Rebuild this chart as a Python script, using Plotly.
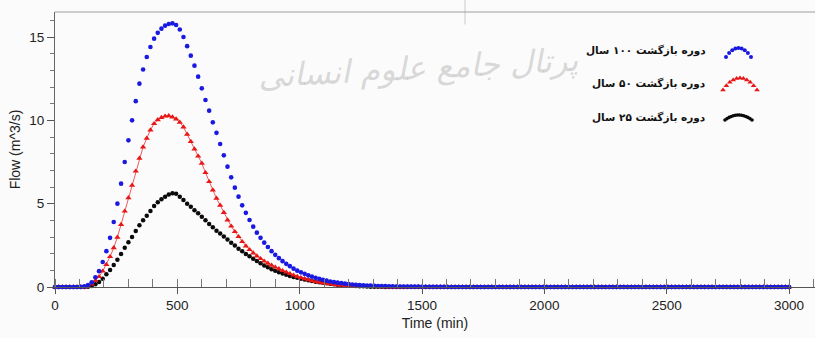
import plotly.graph_objects as go

# Outflow hydrographs, sampled every 15 minutes from 0 to 3000 min
TIME_STEP = 15

flow_100yr = [
    0, 0, 0, 0, 0, 0, 0, 0.01, 0.04, 0.12,
    0.28, 0.58, 0.95, 1.5, 2.15, 2.95, 3.9, 5.0, 6.2, 7.5,
    8.8, 10.0, 11.15, 12.2, 13.05, 13.8, 14.4, 14.9, 15.25, 15.5,
    15.68, 15.78, 15.82, 15.72, 15.45, 15.0, 14.45, 13.88, 13.28, 12.62,
    11.92, 11.22, 10.58, 9.88, 9.25, 8.58, 7.9, 7.22, 6.58, 5.96,
    5.42, 4.9, 4.45, 4.02, 3.62, 3.26, 2.95, 2.66, 2.4, 2.15,
    1.93, 1.73, 1.55, 1.39, 1.25, 1.1, 0.98, 0.88, 0.79, 0.7,
    0.62, 0.55, 0.49, 0.43, 0.38, 0.33, 0.29, 0.26, 0.23, 0.2,
    0.17, 0.15, 0.13, 0.11, 0.1, 0.09, 0.08, 0.07, 0.06, 0.05,
    0.05, 0.04, 0.04, 0.03, 0.03, 0.03, 0.02, 0.02, 0.02, 0.02,
    0.01, 0.01, 0.01, 0.01, 0.01, 0.01, 0.01, 0, 0, 0,
    0, 0, 0, 0, 0, 0, 0, 0, 0, 0,
    0, 0, 0, 0, 0, 0, 0, 0, 0, 0,
    0, 0, 0, 0, 0, 0, 0, 0, 0, 0,
    0, 0, 0, 0, 0, 0, 0, 0, 0, 0,
    0, 0, 0, 0, 0, 0, 0, 0, 0, 0,
    0, 0, 0, 0, 0, 0, 0, 0, 0, 0,
    0, 0, 0, 0, 0, 0, 0, 0, 0, 0,
    0, 0, 0, 0, 0, 0, 0, 0, 0, 0,
    0, 0, 0, 0, 0, 0, 0, 0, 0, 0,
    0,
]

flow_50yr = [
    0, 0, 0, 0, 0, 0, 0, 0, 0, 0.05,
    0.18, 0.38, 0.62, 0.95, 1.35, 1.82, 2.35, 2.98, 3.75, 4.55,
    5.35, 6.1, 6.95, 7.72, 8.4, 8.92, 9.42, 9.8, 10.03, 10.17,
    10.25, 10.27, 10.2, 10.08, 9.88, 9.6, 9.16, 8.73, 8.28, 7.85,
    7.42, 6.86, 6.32, 5.82, 5.32, 4.9, 4.47, 4.02, 3.65, 3.32,
    3.02, 2.72, 2.46, 2.24, 2.04, 1.86, 1.7, 1.55, 1.42, 1.3,
    1.19, 1.09, 0.98, 0.89, 0.8, 0.71, 0.63, 0.56, 0.49, 0.43,
    0.37, 0.32, 0.28, 0.24, 0.2, 0.17, 0.14, 0.12, 0.1, 0.08,
    0.07, 0.06, 0.05, 0.04, 0.03, 0.03, 0.02, 0.02, 0.01, 0.01,
    0.01, 0, 0, 0, 0, 0, 0, 0, 0, 0,
    0, 0, 0, 0, 0, 0, 0, 0, 0, 0,
    0, 0, 0, 0, 0, 0, 0, 0, 0, 0,
    0, 0, 0, 0, 0, 0, 0, 0, 0, 0,
    0, 0, 0, 0, 0, 0, 0, 0, 0, 0,
    0, 0, 0, 0, 0, 0, 0, 0, 0, 0,
    0, 0, 0, 0, 0, 0, 0, 0, 0, 0,
    0, 0, 0, 0, 0, 0, 0, 0, 0, 0,
    0, 0, 0, 0, 0, 0, 0, 0, 0, 0,
    0, 0, 0, 0, 0, 0, 0, 0, 0, 0,
    0, 0, 0, 0, 0, 0, 0, 0, 0, 0,
    0,
]

flow_25yr = [
    0, 0, 0, 0, 0, 0, 0, 0, 0, 0.02,
    0.06, 0.16, 0.3, 0.5, 0.76, 1.02, 1.32, 1.64, 1.98, 2.35,
    2.68, 3.0, 3.36, 3.7, 4.0, 4.28, 4.56, 4.86, 5.08, 5.26,
    5.42, 5.55, 5.63, 5.6, 5.42, 5.22, 5.0, 4.82, 4.6, 4.42,
    4.22, 4.0, 3.78, 3.58, 3.38, 3.21, 3.03, 2.85, 2.66, 2.49,
    2.3, 2.14, 1.98, 1.84, 1.7, 1.56, 1.42, 1.29, 1.18, 1.07,
    0.97, 0.88, 0.81, 0.74, 0.66, 0.6, 0.55, 0.5, 0.45, 0.4,
    0.36, 0.32, 0.28, 0.25, 0.22, 0.19, 0.16, 0.14, 0.12, 0.1,
    0.08, 0.07, 0.06, 0.05, 0.04, 0.03, 0.02, 0.02, 0.01, 0.01,
    0, 0, 0, 0, 0, 0, 0, 0, 0, 0,
    0, 0, 0, 0, 0, 0, 0, 0, 0, 0,
    0, 0, 0, 0, 0, 0, 0, 0, 0, 0,
    0, 0, 0, 0, 0, 0, 0, 0, 0, 0,
    0, 0, 0, 0, 0, 0, 0, 0, 0, 0,
    0, 0, 0, 0, 0, 0, 0, 0, 0, 0,
    0, 0, 0, 0, 0, 0, 0, 0, 0, 0,
    0, 0, 0, 0, 0, 0, 0, 0, 0, 0,
    0, 0, 0, 0, 0, 0, 0, 0, 0, 0,
    0, 0, 0, 0, 0, 0, 0, 0, 0, 0,
    0, 0, 0, 0, 0, 0, 0, 0, 0, 0,
    0,
]

legend_labels = [
    "دوره بازگشت ۱۰۰ سال",
    "دوره بازگشت ۵۰ سال",
    "دوره بازگشت ۲۵ سال",
]
x_ticks = [0, 500, 1000, 1500, 2000, 2500, 3000]
y_ticks = [0, 5, 10, 15]

time_min = [i * TIME_STEP for i in range(len(flow_100yr))]

BLUE = "rgb(25,25,225)"
RED = "rgb(232,22,22)"
BLACK = "rgb(10,10,10)"
TICK_FONT = dict(family="Liberation Sans, Arial, sans-serif", size=13.5, color="#222")
TITLE_FONT = dict(family="Liberation Sans, Arial, sans-serif", size=14, color="#222")

# figure geometry (pixels)
W, H = 815, 338
L, R, T, B = 55, 0, 12, 51

fig = go.Figure()

# series: 25-yr first, 100-yr last so it sits on top
fig.add_trace(go.Scatter(
    x=time_min, y=flow_25yr, mode="markers", cliponaxis=False,
    marker=dict(symbol="circle", size=4.5, color=BLACK), showlegend=False))
fig.add_trace(go.Scatter(
    x=time_min, y=flow_50yr, mode="lines+markers", cliponaxis=False,
    line=dict(color=RED, width=0.7),
    marker=dict(symbol="triangle-up", size=5.5, color=RED), showlegend=False))
fig.add_trace(go.Scatter(
    x=time_min, y=flow_100yr, mode="markers", cliponaxis=False,
    marker=dict(symbol="circle", size=4.6, color=BLUE), showlegend=False))

# legend key glyphs: small arcs of markers, drawn in a pixel-space overlay
def arc(x0, x1, y_end, y_top, n):
    xs, ys = [], []
    for i in range(n):
        u = i / (n - 1)
        xs.append(x0 + (x1 - x0) * u)
        ys.append(y_end - (y_end - y_top) * 4 * u * (1 - u))
    return xs, ys

key_styles = [
    (BLUE, "circle", 4, arc(726, 751, 57, 48, 9)),
    (RED, "triangle-up", 5, arc(723, 757, 90, 78, 11)),
    (BLACK, "circle", 3.6, arc(725, 752, 120, 115, 14)),
]
for color, sym, size, (kx, ky) in key_styles:
    fig.add_trace(go.Scatter(
        x=kx, y=ky, xaxis="x3", yaxis="y3", mode="markers", cliponaxis=False,
        marker=dict(symbol=sym, size=size, color=color), showlegend=False,
        hoverinfo="skip"))

annotations = []
for label, ypix in zip(legend_labels, [50, 83, 117]):
    annotations.append(dict(
        x=708, y=ypix, xref="x3", yref="y3", text=f"<b>{label}</b>",
        showarrow=False, xanchor="right", yanchor="middle",
        font=dict(family="DejaVu Sans, sans-serif", size=10.5, color="#111")))

# faint site watermark
annotations.append(dict(
    x=418, y=68, xref="x3", yref="y3", text="<i>پرتال جامع علوم انسانی</i>",
    showarrow=False, xanchor="center", yanchor="middle", textangle=-3,
    font=dict(family="DejaVu Sans, sans-serif", size=32, color="rgba(165,165,165,0.42)")))

fig.update_layout(
    width=W, height=H,
    margin=dict(l=L, r=R, t=T, b=B, pad=0),
    paper_bgcolor="#fbfbfb", plot_bgcolor="#fbfbfb",
    annotations=annotations,
    xaxis=dict(
        range=[0, 3106], tickvals=x_ticks, ticks="outside", ticklen=6,
        tickcolor="#555", tickwidth=1,
        minor=dict(dtick=100, tick0=0, ticks="inside", ticklen=8, tickcolor="#777"),
        showline=True, linecolor="#555", linewidth=1, showgrid=False, zeroline=False,
        tickfont=TICK_FONT, title=dict(text="Time (min)", font=TITLE_FONT, standoff=5),
    ),
    xaxis2=dict(
        overlaying="x", anchor="y", range=[0, 3106], tickvals=x_ticks,
        ticks="inside", ticklen=8, tickcolor="#555", showticklabels=False,
        showline=False, showgrid=False, zeroline=False,
    ),
    yaxis=dict(
        range=[0, 16.5], tickvals=y_ticks, ticks="outside", ticklen=7,
        tickcolor="#555", tickwidth=1,
        minor=dict(dtick=1, tick0=0, ticks="outside", ticklen=4, tickcolor="#777"),
        showline=True, linecolor="#666", linewidth=1, showgrid=False, zeroline=False,
        tickfont=TICK_FONT, title=dict(text="Flow (m^3/s)", font=TITLE_FONT, standoff=5),
    ),
    xaxis3=dict(overlaying="x", anchor="y3", range=[L, W], visible=False),
    yaxis3=dict(overlaying="y", anchor="x3", range=[H - B, T], visible=False),
    shapes=[
        # top frame line
        dict(type="line", xref="paper", yref="paper", x0=0, x1=1, y0=1, y1=1,
             line=dict(color="#bdbdbd", width=1.5)),
        # watermark stroke crossing the frame
        dict(type="line", xref="paper", yref="paper", x0=0.5395, x1=0.5395,
             y0=1.0436, y1=0.955, line=dict(color="rgba(170,170,170,0.6)", width=1)),
    ],
)

fig.write_html("out.html")
